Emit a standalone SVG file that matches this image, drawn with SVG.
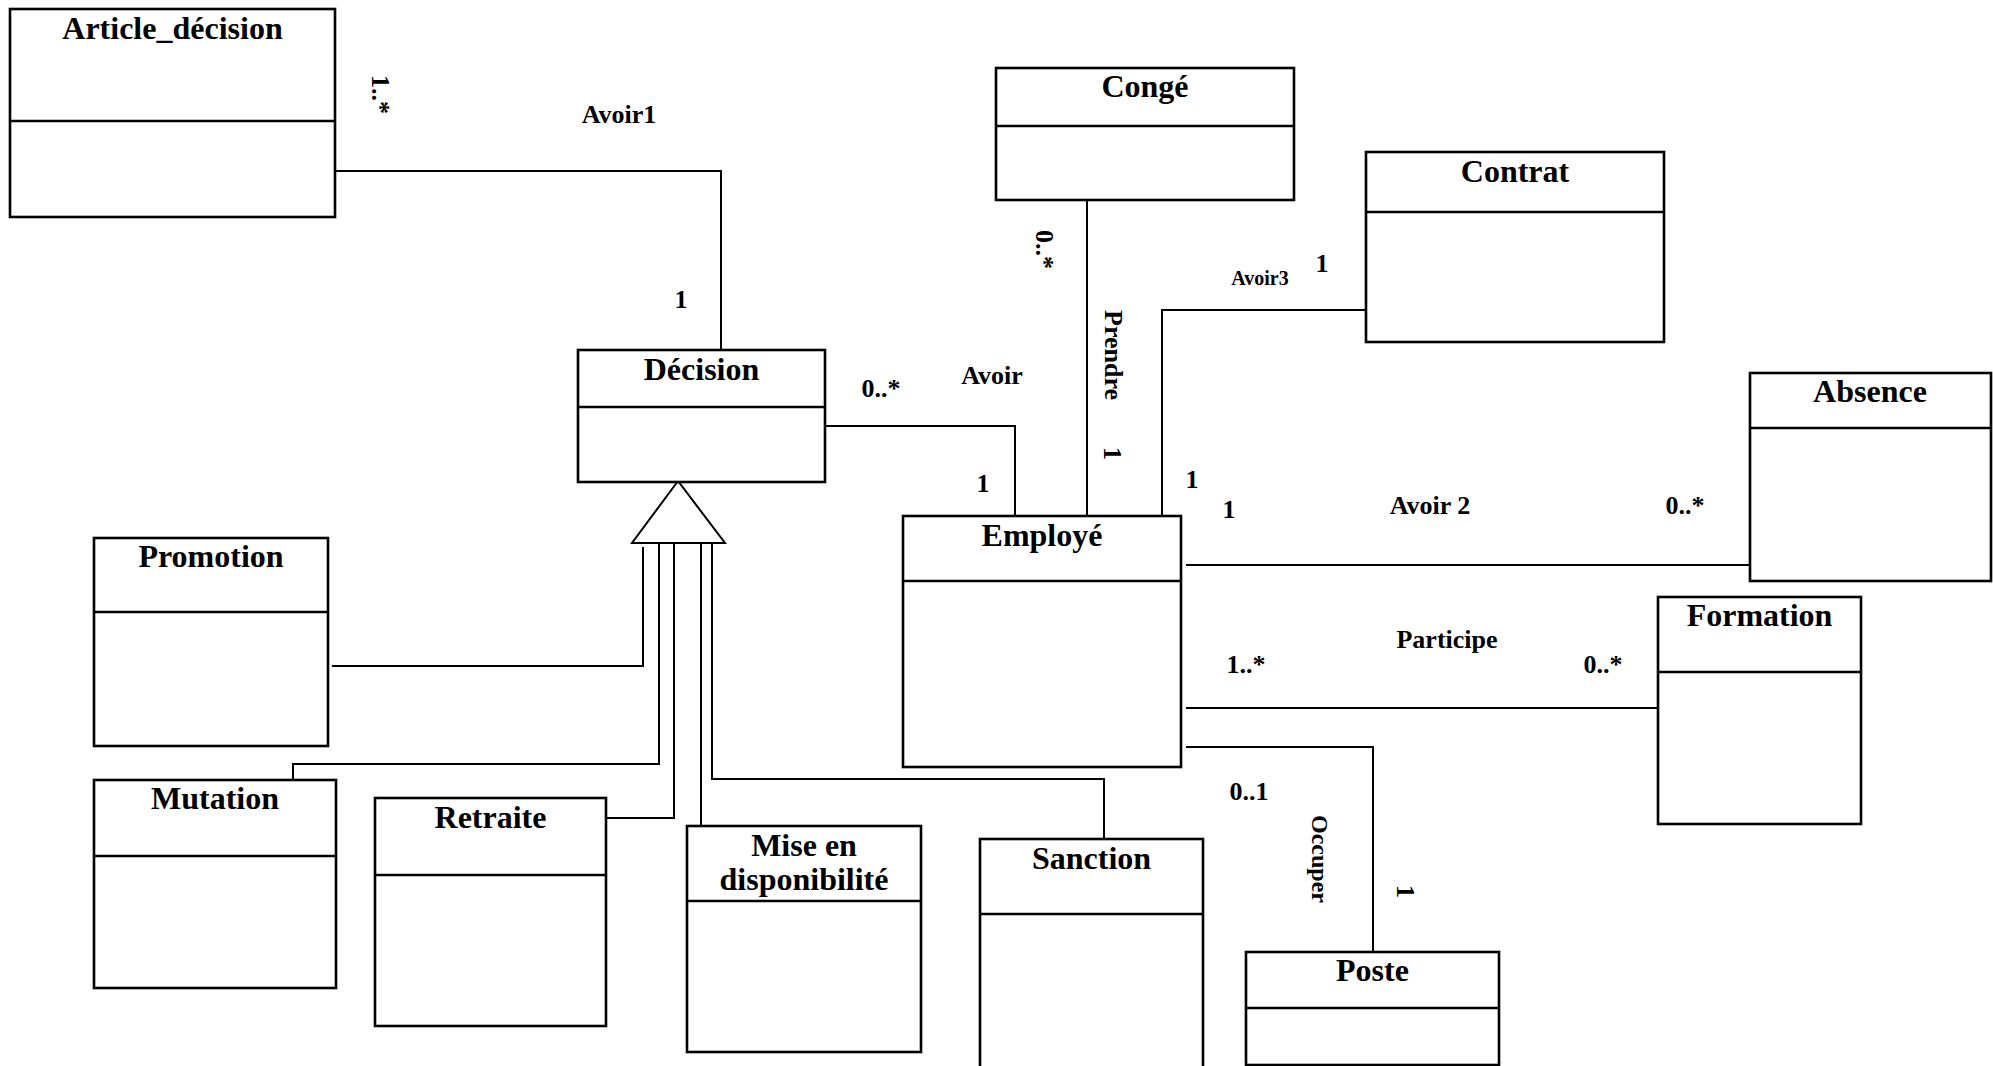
<svg xmlns="http://www.w3.org/2000/svg" width="1993" height="1066" viewBox="0 0 1993 1066">
  <style>
    .box { fill: #ffffff; stroke: #000000; stroke-width: 2.6; }
    .sep { stroke: #000000; stroke-width: 2.6; }
    .title { font-family: "Liberation Serif", "Times New Roman", serif; font-weight: bold; font-size: 32px; text-anchor: middle; fill: #000000; }
    .lbl { font-family: "Liberation Serif", "Times New Roman", serif; font-weight: bold; font-size: 26px; text-anchor: middle; fill: #000000; }
    .vlbl { font-family: "Liberation Serif", "Times New Roman", serif; font-weight: bold; font-size: 26px; fill: #000000; }
    .link { fill: none; stroke: #000000; stroke-width: 2; }
    .gen { fill: #ffffff; stroke: #000000; stroke-width: 2; }
  </style>
  <rect width="1993" height="1066" fill="#ffffff"/>

  <!-- associations and generalisation lines -->
  <g id="connectors">
    <path class="link" d="M335,171 H721 V350"/>
    <path class="link" d="M825,426 H1015 V516"/>
    <path class="link" d="M1087,197 V516"/>
    <path class="link" d="M1366,310 H1162 V516"/>
    <path class="link" d="M1186,565 H1750"/>
    <path class="link" d="M1186,708 H1658"/>
    <path class="link" d="M1186,747 H1373 V952"/>
    <path class="link" d="M332,666 H643 V547"/>
    <path class="link" d="M293,780 V764 H659 V542"/>
    <path class="link" d="M604,818 H674 V543"/>
    <path class="link" d="M701,543 V826"/>
    <path class="link" d="M712,543 V779 H1104 V839"/>
    <polygon class="gen" points="678,481 632,543 725,543"/>

    <!-- association names and multiplicities -->
    <text class="vlbl" transform="translate(372,75) rotate(90)">1..*</text>
    <text class="lbl" x="619" y="123">Avoir1</text>
    <text class="lbl" x="681" y="308">1</text>
    <text class="lbl" x="881" y="397">0..*</text>
    <text class="lbl" x="992" y="384">Avoir</text>
    <text class="lbl" x="983" y="492">1</text>
    <text class="vlbl" transform="translate(1036,230) rotate(90)">0..*</text>
    <text class="vlbl" transform="translate(1105,310) rotate(90)">Prendre</text>
    <text class="vlbl" transform="translate(1104,447) rotate(90)">1</text>
    <text class="lbl" x="1260" y="285" style="font-size:20px">Avoir3</text>
    <text class="lbl" x="1322" y="272">1</text>
    <text class="lbl" x="1192" y="488">1</text>
    <text class="lbl" x="1229" y="518">1</text>
    <text class="lbl" x="1430" y="514">Avoir 2</text>
    <text class="lbl" x="1685" y="514">0..*</text>
    <text class="lbl" x="1447" y="648">Participe</text>
    <text class="lbl" x="1246" y="673">1..*</text>
    <text class="lbl" x="1603" y="673">0..*</text>
    <text class="lbl" x="1249" y="800">0..1</text>
    <text class="vlbl" style="font-size:24px" transform="translate(1312,815) rotate(90)">Occuper</text>
    <text class="vlbl" transform="translate(1397,885) rotate(90)">1</text>
  </g>

  <g id="article-decision">
    <rect class="box" x="10" y="9" width="325" height="208"/>
    <line class="sep" x1="10" y1="121" x2="335" y2="121"/>
    <text class="title" x="172.5" y="39">Article_décision</text>
  </g>

  <g id="decision">
    <rect class="box" x="578" y="350" width="247" height="132"/>
    <line class="sep" x1="578" y1="407" x2="825" y2="407"/>
    <text class="title" x="701.5" y="380">Décision</text>
  </g>

  <g id="conge">
    <rect class="box" x="996" y="68" width="298" height="132"/>
    <line class="sep" x1="996" y1="126" x2="1294" y2="126"/>
    <text class="title" x="1145" y="97">Congé</text>
  </g>

  <g id="contrat">
    <rect class="box" x="1366" y="152" width="298" height="190"/>
    <line class="sep" x1="1366" y1="212" x2="1664" y2="212"/>
    <text class="title" x="1515" y="182">Contrat</text>
  </g>

  <g id="absence">
    <rect class="box" x="1750" y="373" width="241" height="208"/>
    <line class="sep" x1="1750" y1="428" x2="1991" y2="428"/>
    <text class="title" x="1870" y="402">Absence</text>
  </g>

  <g id="employe">
    <rect class="box" x="903" y="516" width="278" height="251"/>
    <line class="sep" x1="903" y1="581" x2="1181" y2="581"/>
    <text class="title" x="1042" y="546">Employé</text>
  </g>

  <g id="formation">
    <rect class="box" x="1658" y="597" width="203" height="227"/>
    <line class="sep" x1="1658" y1="672" x2="1861" y2="672"/>
    <text class="title" x="1759.5" y="626">Formation</text>
  </g>

  <g id="promotion">
    <rect class="box" x="94" y="538" width="234" height="208"/>
    <line class="sep" x1="94" y1="612" x2="328" y2="612"/>
    <text class="title" x="211" y="567">Promotion</text>
  </g>

  <g id="mutation">
    <rect class="box" x="94" y="780" width="242" height="208"/>
    <line class="sep" x1="94" y1="856" x2="336" y2="856"/>
    <text class="title" x="215" y="809">Mutation</text>
  </g>

  <g id="retraite">
    <rect class="box" x="375" y="798" width="231" height="228"/>
    <line class="sep" x1="375" y1="875" x2="606" y2="875"/>
    <text class="title" x="490.5" y="828">Retraite</text>
  </g>

  <g id="mise-en-disponibilite">
    <rect class="box" x="687" y="826" width="234" height="226"/>
    <line class="sep" x1="687" y1="901" x2="921" y2="901"/>
    <text class="title" x="804" y="856">Mise en</text>
    <text class="title" x="804" y="890">disponibilité</text>
  </g>

  <g id="sanction">
    <rect class="box" x="980" y="839" width="223" height="240"/>
    <line class="sep" x1="980" y1="914" x2="1203" y2="914"/>
    <text class="title" x="1091.5" y="869">Sanction</text>
  </g>

  <g id="poste">
    <rect class="box" x="1246" y="952" width="253" height="113"/>
    <line class="sep" x1="1246" y1="1008" x2="1499" y2="1008"/>
    <text class="title" x="1372.5" y="981">Poste</text>
  </g>
</svg>
